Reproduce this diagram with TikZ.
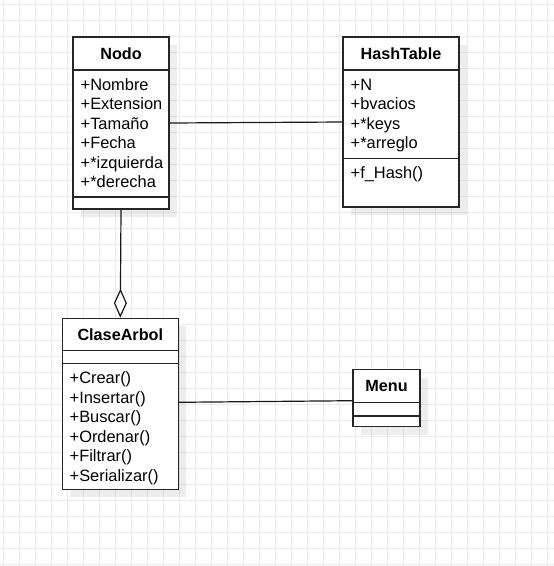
\documentclass[tikz,border=0pt]{standalone}
\usepackage{fontspec}
\setmainfont{Liberation Sans}
\usetikzlibrary{arrows.meta,shadows}
\begin{document}
\begin{tikzpicture}[x=1pt,y=-1pt,
  gridline/.style={draw=black!8,line width=0.9pt},
  umlbox/.style={draw=black!85,fill=white,line width=1.3pt,inner sep=0pt,
    drop shadow={shadow xshift=8pt,shadow yshift=-8pt,fill=black,opacity=0.07}},
  divider/.style={draw=black!85,line width=1.3pt},
  title/.style={font=\bfseries\fontsize{16.2}{19}\selectfont,inner sep=0pt,anchor=center},
  attr/.style={font=\fontsize{16.4}{19}\selectfont,inner sep=0pt,anchor=base west},
  conn/.style={draw=black!90,line width=1.2pt}]
\useasboundingbox (0,0) rectangle (554,566);
\fill[white] (0,0) rectangle (554,566);
\foreach \x in {3,19,...,547} \draw[gridline] (\x,0) -- (\x,566);
\foreach \y in {4,20,...,564} \draw[gridline] (0,\y) -- (554,\y);

% Nodo
\node[umlbox,minimum width=96pt,minimum height=172pt] (nodo) at (121,123) {};
\draw[divider] (nodo.west |- 0,70) -- (nodo.east |- 0,70);
\draw[divider] (nodo.west |- 0,197) -- (nodo.east |- 0,197);
\node[title] (nodot) at (121,53.5) {Nodo};
\node[attr] (n1) at (80.5,90) {+Nombre};
\node[attr] (n2) at (80.5,109.5) {+Extension};
\node[attr] (n3) at (80.5,129) {+Tamaño};
\node[attr] (n4) at (80.5,148.5) {+Fecha};
\node[attr] (n5) at (80.5,168) {+*izquierda};
\node[attr] (n6) at (80.5,187.5) {+*derecha};

% HashTable
\node[umlbox,minimum width=116pt,minimum height=170pt] (hash) at (401,122) {};
\draw[divider] (hash.west |- 0,70) -- (hash.east |- 0,70);
\draw[divider] (hash.west |- 0,158.3) -- (hash.east |- 0,158.3);
\node[title] (hasht) at (401,53.5) {HashTable};
\node[attr] (h1) at (350.5,90) {+N};
\node[attr] (h2) at (350.5,109.5) {+bvacios};
\node[attr] (h3) at (350.5,129) {+*keys};
\node[attr] (h4) at (350.5,148.5) {+*arreglo};
\node[attr] (h5) at (350.5,178.5) {+f\_Hash()};

% ClaseArbol
\node[umlbox,minimum width=116pt,minimum height=171pt] (clase) at (120.3,403.8) {};
\draw[divider] (clase.west |- 0,350.7) -- (clase.east |- 0,350.7);
\draw[divider] (clase.west |- 0,363.3) -- (clase.east |- 0,363.3);
\node[title] (claset) at (120.3,334.5) {ClaseArbol};
\node[attr] (c1) at (69.5,383.5) {+Crear()};
\node[attr] (c2) at (69.5,403) {+Insertar()};
\node[attr] (c3) at (69.5,422.5) {+Buscar()};
\node[attr] (c4) at (69.5,442) {+Ordenar()};
\node[attr] (c5) at (69.5,461.5) {+Filtrar()};
\node[attr] (c6) at (69.5,481) {+Serializar()};

% Menu
\node[umlbox,minimum width=67pt,minimum height=57pt] (menu) at (386.5,398.3) {};
\draw[divider] (menu.west |- 0,402.7) -- (menu.east |- 0,402.7);
\draw[divider] (menu.west |- 0,416) -- (menu.east |- 0,416);
\node[title] (menut) at (386.5,386.3) {Menu};

% connectors
\draw[conn] (nodo.east) -- (hash.west);
\draw[conn,-{Diamond[open,fill=white,length=29pt,width=13pt,line width=1.2pt]}] (nodo.south) -- (clase.north);
\draw[conn] ([yshift=1.5pt]clase.east) -- ([yshift=-2.4pt]menu.west);
\end{tikzpicture}
\end{document}
